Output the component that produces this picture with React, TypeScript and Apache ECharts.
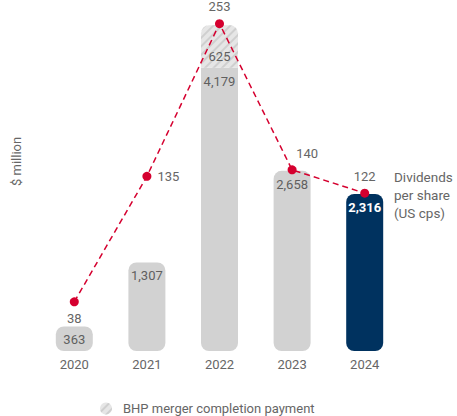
import React, { useEffect, useRef } from "react";
import * as echarts from "echarts";

const years = ["2020", "2021", "2022", "2023", "2024"];
const netProfit = [363, 1307, 4179, 2658, 2316];
const bhpPayment = [null, null, 625, null, null];
const dividends = [38, 135, 253, 140, 122];
const dividendLabelPos = ["bottom", "right", "top", "top", "top"];

const FONT = "Roboto";
const GREY = "#666666";

export default function App() {
  const ref = useRef<HTMLDivElement>(null);
  useEffect(() => {
    const chart = echarts.init(ref.current!, null, { renderer: "svg" });
    const fmt = (v: number) => v.toLocaleString("en-US");
    chart.setOption({
      animation: false,
      textStyle: { fontFamily: FONT },
      grid: { left: 38, right: 56, top: 12, bottom: 65 },
      legend: {
        data: ["BHP merger completion payment"],
        icon: "circle",
        itemWidth: 12,
        itemHeight: 12,
        left: 95,
        top: 397,
        textStyle: { color: GREY, fontSize: 13, fontFamily: FONT, padding: [0, 0, 0, 6] },
      },
      xAxis: {
        type: "category",
        data: years,
        axisLine: { show: false },
        axisTick: { show: false },
        axisLabel: { color: GREY, fontSize: 13, margin: 7, fontFamily: FONT },
      },
      yAxis: [
        { type: "value", min: 0, max: 5000, show: false },
        { type: "value", min: 0, max: 262, show: false },
      ],
      graphic: [
        {
          type: "text",
          x: 10,
          y: 186,
          rotation: Math.PI / 2,
          style: { text: "$ million", fill: GREY, fontSize: 13, fontFamily: FONT },
        },
        {
          type: "text",
          x: 394,
          y: 168,
          style: {
            text: "Dividends\nper share\n(US cps)",
            fill: GREY,
            fontSize: 13.5,
            lineHeight: 18,
            fontFamily: FONT,
          },
        },
      ],
      series: [
        {
          name: "Net",
          type: "bar",
          stack: "total",
          barWidth: 37,
          data: netProfit.map((v, i) => ({
            value: v,
            itemStyle: {
              color: i === 4 ? "#00325f" : "#d2d2d2",
              borderRadius: i === 2 ? [0, 0, 8, 8] : 8,
            },
            label: i === 4 ? { color: "#ffffff", fontWeight: "bold" } : {},
          })),
          label: {
            show: true,
            position: "insideTop",
            distance: 7,
            color: "#5f5f5f",
            fontSize: 13,
            fontFamily: FONT,
            formatter: (p: any) => fmt(p.value),
          },
        },
        {
          name: "BHP merger completion payment",
          type: "bar",
          stack: "total",
          barWidth: 37,
          data: bhpPayment.map((v) => (v == null ? "-" : v)),
          itemStyle: {
            color: "#e6e6e6",
            borderRadius: [8, 8, 0, 0],
            decal: {
              symbol: "rect",
              color: "#cfcfcf",
              dashArrayX: [1, 0],
              dashArrayY: [2, 4],
              rotation: -Math.PI / 4,
            },
          },
          label: {
            show: true,
            position: "insideBottom",
            distance: 5,
            color: "#5f5f5f",
            fontSize: 13,
            fontFamily: FONT,
            formatter: (p: any) => fmt(p.value),
          },
        },
        {
          name: "Dividends",
          type: "line",
          yAxisIndex: 1,
          data: dividends.map((v, i) => ({
            value: v,
            label:
              i === 3
                ? { position: "top", offset: [15, 0], distance: 5 }
                : { position: dividendLabelPos[i] as any },
          })),
          symbol: "circle",
          symbolSize: 9,
          z: 5,
          itemStyle: { color: "#d5002f" },
          lineStyle: { color: "#d5002f", width: 1.5, type: [6, 4] },
          label: {
            show: true,
            color: GREY,
            fontSize: 13,
            distance: 6,
            fontFamily: FONT,
          },
        },
      ],
    });
    return () => chart.dispose();
  }, []);
  return (
    <div
      ref={ref}
      style={{ position: "absolute", left: 0, top: 0, width: 457, height: 416 }}
    />
  );
}
